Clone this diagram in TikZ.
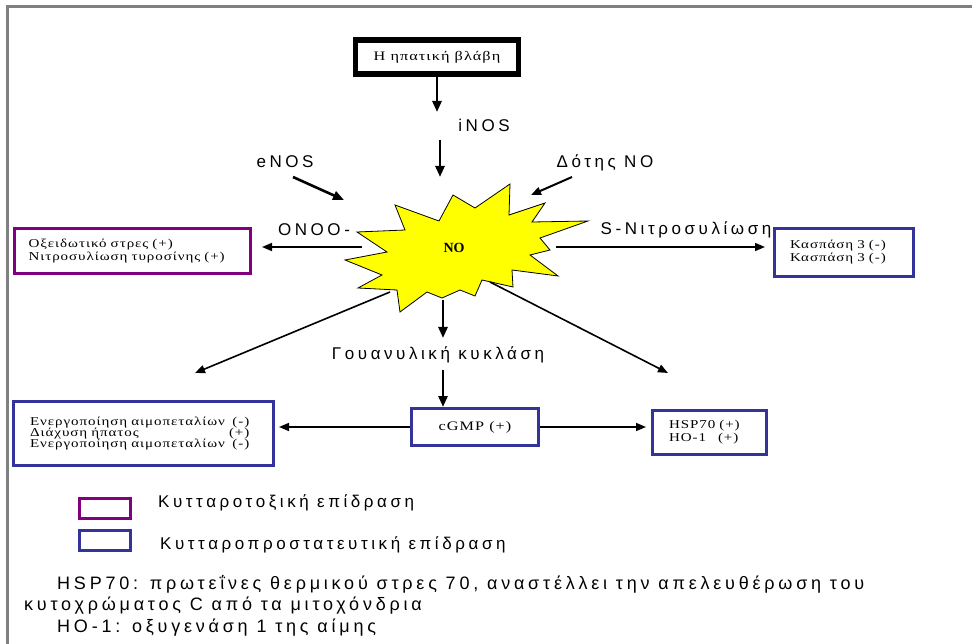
\documentclass[tikz,border=0pt]{standalone}
\usepackage{fontspec}
\setmainfont{Liberation Serif}
\setsansfont{Liberation Sans}
\newfontfamily\lblfont[LetterSpace=21]{Liberation Sans}
\newfontfamily\boxfont[FakeStretch=1.25, LetterSpace=8]{Liberation Serif}
\usetikzlibrary{positioning,arrows.meta}

\definecolor{toxpurple}{HTML}{800080}
\definecolor{protblue}{HTML}{333399}
\definecolor{framegray}{HTML}{808080}
\definecolor{burst}{HTML}{FFFF00}

\begin{document}
\begin{tikzpicture}[
    x=1pt, y=-1pt,
    lbl/.style={inner sep=0pt, font=\lblfont\fontsize{17}{19}\selectfont},
    note/.style={inner sep=0pt, anchor=base west, font=\lblfont\fontsize{18}{20}\selectfont},
    effbox/.style={draw, line width=3pt, inner ysep=0pt, align=left, font=\boxfont\fontsize{12}{13}\selectfont},
    toxic/.style={effbox, draw=toxpurple},
    prot/.style={effbox, draw=protblue},
    arrow/.style={-{Triangle[length=11pt,width=9pt]}, line width=2.6pt},
    thinarrow/.style={-{Triangle[length=10pt,width=8pt]}, line width=1.6pt}
  ]
    \useasboundingbox (0,0) rectangle (972,644);
    \draw[framegray, line width=3pt] (7,644) -- (7,7) -- (972,7);

    % top of the chain
    \node[draw, line width=5.5pt, minimum width=163pt, minimum height=34pt, inner sep=0pt,
          font=\boxfont\fontsize{13}{14}\selectfont] (injury) at (437,57) {Η ηπατική βλάβη};
    \coordinate (inosin) at (437,112);
    \node[lbl] (inos) at (484,125) {iNOS};
    \coordinate (inosout) at (440,140);
    \coordinate (startop) at (440,177);

    % the NO burst
    \draw[fill=burst, line width=0.8pt] (395,205) -- (439,221) -- (453,195) -- (475,208) -- (510,184)
      -- (509,215) -- (545,203) -- (532,222) -- (588,221) -- (540,238) -- (550,250) -- (530,255)
      -- (558,276) -- (512,270) -- (513,287) -- (482,280) -- (475,296) -- (460,290) -- (442,298)
      -- (427,292) -- (400,312) -- (397,290) -- (358,288) -- (382,275) -- (345,260) -- (387,252)
      -- (357,232) -- (405,230) -- cycle;
    \node[font=\bfseries\fontsize{14}{16}\selectfont, inner sep=0pt] (no) at (454,248) {NO};
    \coordinate (burstw) at (362,247);
    \coordinate (burste) at (556,247);
    \coordinate (burstsw) at (390,292);
    \coordinate (burstse) at (490,282);
    \coordinate (bursts) at (443,300);

    \node[lbl] (enos) at (285,162) {eNOS};
    \coordinate (enosin) at (293,177);
    \coordinate (enosout) at (344,200);
    \node[lbl] (donor) at (605,163) {Δότης NO};
    \coordinate (donorin) at (572,177);
    \coordinate (donorout) at (531,195);

    % side effects
    \node[lbl] (onoo) at (314,230) {ONOO-};
    \node[lbl] (snitro) at (686,230) {S-Νιτροσυλίωση};
    \node[toxic, minimum height=45pt, inner xsep=14pt, text width=208pt] (oxid) at (132.5,251)
      {Οξειδωτικό στρες (+)\\Νιτροσυλίωση τυροσίνης (+)};
    \node[prot, minimum height=48pt, inner xsep=15.5pt, text width=108pt] (casp) at (844,252.5)
      {Κασπάση 3 (-)\\Κασπάση 3 (-)};

    % guanylyl cyclase branch
    \coordinate (gcin) at (443,338);
    \node[lbl] (gc) at (438,355) {Γουανυλική κυκλάση};
    \coordinate (gcout) at (443,370);
    \node[prot, minimum width=127pt, minimum height=37pt, inner xsep=0pt,
          font=\boxfont\fontsize{13}{14}\selectfont] (cgmp) at (475,427) {cGMP (+)};
    \node[prot, minimum width=114pt, minimum height=44pt, inner xsep=16.5pt, text width=81pt] (hsp) at (709.5,432.5)
      {HSP70 (+)\\HO-1\ \ \ (+)};
    \node[prot, minimum width=260pt, minimum height=64pt, inner xsep=16.5pt, text width=227pt] (platelet) at (143.5,433.5)
      {\begin{tabular}{@{}l@{\ }r@{}}Ενεργοποίηση αιμοπεταλίων & (-)\\[-2pt]Διάχυση ήπατος & (+)\\[-2pt]Ενεργοποίηση αιμοπεταλίων & (-)\end{tabular}};
    \coordinate (leftdiag) at (195,373);
    \coordinate (rightdiag) at (668,373);

    \draw[arrow] (injury) -- (inosin);
    \draw[arrow] (inosout) -- (startop);
    \draw[arrow] (enosin) -- (enosout);
    \draw[thinarrow, line width=2pt] (donorin) -- (donorout);
    \draw[thinarrow, shorten >=10pt] (burstw) -- (burstw -| oxid.east);
    \draw[thinarrow, shorten >=8pt] (burste) -- (burste -| casp.west);
    \draw[arrow] (bursts) -- (gcin);
    \draw[arrow] (gcout) -- (gcout |- cgmp.north);
    \draw[thinarrow] (burstsw) -- (leftdiag);
    \draw[thinarrow] (burstse) -- (rightdiag);
    \draw[thinarrow, shorten >=4pt] (cgmp.west) -- (cgmp.west -| platelet.east);
    \draw[thinarrow, shorten >=5pt] (cgmp.east) -- (cgmp.east -| hsp.west);

    % legend
    \node[draw=toxpurple, line width=3pt, minimum width=51pt, minimum height=20pt] (keytox) at (105,508.5) {};
    \node[draw=protblue, line width=3pt, minimum width=51pt, minimum height=20pt] (keyprot) at (105,540.5) {};
    \node[lbl, anchor=west] (keytoxtxt) at (158,503) {Κυτταροτοξική επίδραση};
    \node[lbl, anchor=west] (keyprottxt) at (160,545) {Κυτταροπροστατευτική επίδραση};

    % notes
    \node[note] (note1) at (57,589) {HSP70: πρωτεΐνες θερμικού στρες 70, αναστέλλει την απελευθέρωση του};
    \node[note] (note2) at (24,610) {κυτοχρώματος C από τα μιτοχόνδρια};
    \node[note] (note3) at (57,632) {HO-1: οξυγενάση 1 της αίμης};
\end{tikzpicture}
\end{document}
